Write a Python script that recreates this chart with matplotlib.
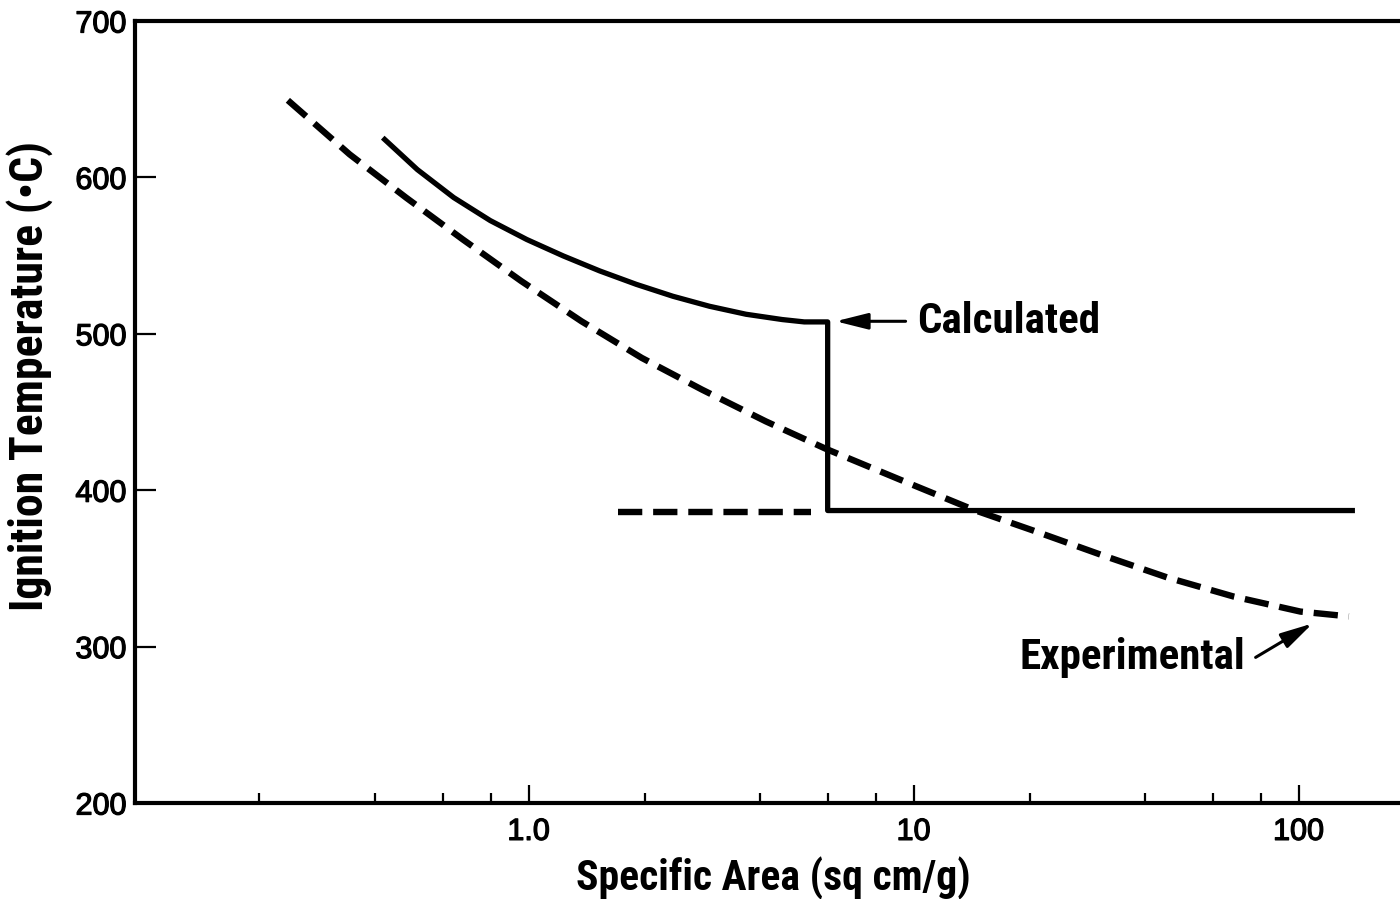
import matplotlib.pyplot as plt
import matplotlib.patheffects as pe
from matplotlib import font_manager
from matplotlib.ticker import FixedLocator, NullFormatter

# Calculated ignition temperature vs. specific area (solid, drops at ~6 sq cm/g)
calc_area = [0.418, 0.514, 0.639, 0.795, 0.989, 1.23, 1.53, 1.905, 2.37, 2.95,
             3.67, 4.56, 5.20, 5.98, 5.98, 140]
calc_temp = [625.4, 605.0, 587.1, 572.4, 560.3, 549.8, 540.2, 531.6, 524.0, 517.6,
             512.5, 509.1, 507.6, 507.6, 387, 387]

# Experimental ignition temperature (dashed)
exp_area = [0.237, 0.343, 0.481, 0.675, 0.957, 1.372, 1.967, 2.821, 4.132, 5.923,
            9.25, 14.3, 20.5, 30.6, 45.7, 67.8, 101, 135]
exp_temp = [649.3, 614.7, 587.0, 560.3, 533.7, 508.0, 484.6, 464.3, 444.0, 426.4,
            406.6, 387.5, 374.1, 358.8, 344.1, 332.0, 322.4, 319.3]

# dashed extension of the lower calculated plateau
ext_area = [1.71, 5.40]
ext_temp = [386, 386]

x_major = [1, 10, 100]
x_major_labels = ['1.0', '10', '100']
x_minor = [0.2, 0.4, 0.6, 0.8, 2, 4, 6, 8, 20, 40, 60, 80]
y_ticks = [200, 300, 400, 500, 600, 700]

# condensed bold face for the titles if one is installed
installed = {f.name for f in font_manager.fontManager.ttflist}
big_font, big_size = ['Liberation Sans', 'DejaVu Sans'], 25
for cand in ['Roboto Condensed', 'Liberation Sans Narrow', 'Open Sans Condensed']:
    if cand in installed:
        big_font, big_size = [cand, 'Liberation Sans', 'DejaVu Sans'], 31
        break
tick_font = ['Liberation Sans', 'DejaVu Sans']

fig = plt.figure(figsize=(14, 8.99), dpi=100)
ax = fig.add_axes([135 / 1400, 96 / 899, 1271 / 1400, 782 / 899])

ax.plot(calc_area, calc_temp, color='black', lw=3.8, solid_joinstyle='round',
        solid_capstyle='butt')
ax.plot(exp_area, exp_temp, color='black', lw=4.6, dashes=(3.8, 1.7),
        dash_capstyle='butt', dash_joinstyle='round')
ax.plot(ext_area, ext_temp, color='black', lw=4.6, dashes=(3.8, 1.7),
        dash_capstyle='butt')

ax.set_xscale('log')
ax.set_xlim(0.095, 190)
ax.set_ylim(200, 700)

ax.xaxis.set_major_locator(FixedLocator(x_major))
ax.set_xticklabels(x_major_labels)
ax.xaxis.set_minor_locator(FixedLocator(x_minor))
ax.xaxis.set_minor_formatter(NullFormatter())
ax.set_yticks(y_ticks)

ax.tick_params(axis='x', which='major', direction='in', length=13, width=1.6, pad=10)
ax.tick_params(axis='x', which='minor', direction='in', length=7, width=1.6)
ax.tick_params(axis='y', direction='in', length=15, width=1.6, pad=6)
for lab in ax.get_xticklabels() + ax.get_yticklabels():
    lab.set_family(tick_font)
    lab.set_fontsize(22)
    lab.set_path_effects([pe.withStroke(linewidth=0.9, foreground='black')])

for side in ['left', 'bottom', 'top']:
    ax.spines[side].set_linewidth(3)
ax.spines['right'].set_visible(False)

# annotations
ax.annotate('', xy=(6.27, 508), xytext=(9.53, 508),
            arrowprops=dict(arrowstyle='-|>,head_length=1.4,head_width=0.35',
                            color='black', lw=2.2, mutation_scale=14, shrinkA=0, shrinkB=0))
ax.text(10.24, 500.4, 'Calculated', family=big_font, fontweight='bold',
        fontsize=big_size, ha='left', va='baseline')

ax.annotate('', xy=(108.7, 314.8), xytext=(77.3, 293.1),
            arrowprops=dict(arrowstyle='-|>,head_length=1.4,head_width=0.35',
                            color='black', lw=2.2, mutation_scale=14, shrinkA=0, shrinkB=0))
ax.text(72.8, 285.5, 'Experimental', family=big_font, fontweight='bold',
        fontsize=big_size, ha='right', va='baseline')

fig.text(773 / 1400, 9 / 899, 'Specific Area (sq cm/g)', family=big_font,
         fontweight='bold', fontsize=big_size - 1, ha='center', va='baseline')
fig.text(30 / 1400, (899 - 376) / 899, 'Ignition Temperature (•C)', family=big_font,
         fontweight='bold', fontsize=big_size + 2, ha='center', va='center', rotation=90)

fig.savefig('out.png', dpi=100)
